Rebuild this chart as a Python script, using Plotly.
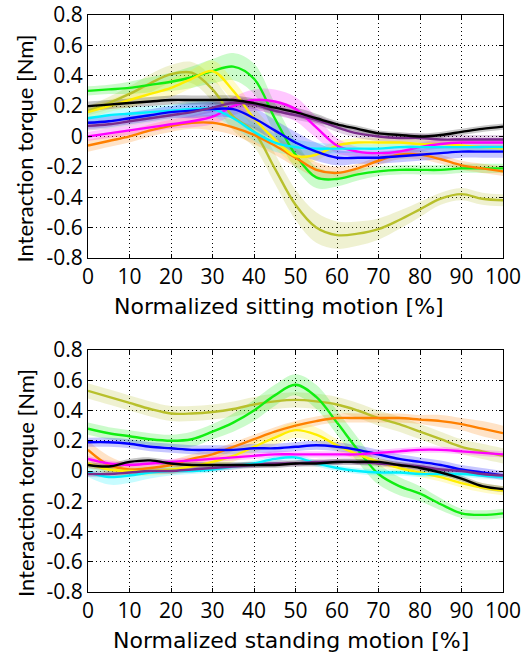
import plotly.graph_objects as go
from plotly.subplots import make_subplots

pct = list(range(0, 101, 5))

y_ticks = [-0.8, -0.6, -0.4, -0.2, 0, 0.2, 0.4, 0.6, 0.8]
y_ticklabels = ["-0.8", "-0.6", "-0.4", "-0.2", "0", "0.2", "0.4", "0.6", "0.8"]
x_ticks = list(range(0, 101, 10))

colors = {
    "olive": "#b8c02c",
    "green": "#11ee11",
    "orange": "#ff8000",
    "yellow": "#ffee00",
    "blue": "#0000ff",
    "magenta": "#ff00ff",
    "cyan": "#00f0ff",
    "purple": "#7a2c8c",
    "black": "#000000",
}

# sitting motion, mean torque [Nm]
sit_olive = [0.17, 0.22, 0.28, 0.35, 0.41, 0.42, 0.31, 0.13, 0.03, -0.21, -0.45, -0.6, -0.65, -0.64, -0.61, -0.55, -0.48, -0.41, -0.38, -0.41, -0.42]
sit_green = [0.30, 0.31, 0.32, 0.34, 0.36, 0.39, 0.43, 0.46, 0.38, 0.12, -0.12, -0.27, -0.28, -0.25, -0.23, -0.22, -0.22, -0.22, -0.21, -0.21, -0.21]
sit_yellow = [0.16, 0.2, 0.24, 0.28, 0.32, 0.38, 0.43, 0.3, 0.12, -0.02, -0.13, -0.12, -0.06, -0.04, -0.04, -0.04, -0.05, -0.05, -0.06, -0.07, -0.08]
sit_orange = [-0.06, -0.03, 0.0, 0.04, 0.07, 0.09, 0.09, 0.06, 0.01, -0.06, -0.14, -0.22, -0.24, -0.21, -0.16, -0.12, -0.12, -0.15, -0.19, -0.21, -0.23]
sit_magenta = [0.0, 0.02, 0.04, 0.06, 0.08, 0.1, 0.13, 0.2, 0.24, 0.23, 0.18, 0.06, -0.06, -0.1, -0.11, -0.1, -0.07, -0.05, -0.04, -0.04, -0.04]
sit_cyan = [0.12, 0.14, 0.15, 0.16, 0.17, 0.18, 0.18, 0.12, 0.03, -0.04, -0.07, -0.08, -0.08, -0.08, -0.08, -0.07, -0.07, -0.07, -0.07, -0.07, -0.07]
sit_blue = [0.09, 0.1, 0.12, 0.14, 0.16, 0.17, 0.18, 0.18, 0.12, 0.04, -0.04, -0.1, -0.14, -0.14, -0.14, -0.13, -0.12, -0.11, -0.1, -0.1, -0.1]
sit_purple = [0.07, 0.08, 0.1, 0.12, 0.14, 0.16, 0.19, 0.22, 0.21, 0.17, 0.14, 0.11, 0.06, 0.02, 0.0, -0.01, -0.01, -0.02, -0.02, -0.02, -0.02]
sit_black = [0.2, 0.21, 0.22, 0.23, 0.24, 0.24, 0.24, 0.24, 0.22, 0.19, 0.16, 0.12, 0.08, 0.05, 0.02, 0.01, 0.0, 0.01, 0.03, 0.05, 0.065]

# sitting motion, spread
sit_olive_sd = [0.03, 0.04, 0.05, 0.06, 0.06, 0.07, 0.08, 0.09, 0.1, 0.1, 0.1, 0.1, 0.09, 0.08, 0.07, 0.06, 0.05, 0.04, 0.04, 0.04, 0.04]
sit_green_sd = [0.03, 0.03, 0.04, 0.05, 0.06, 0.07, 0.08, 0.09, 0.1, 0.1, 0.09, 0.07, 0.05, 0.04, 0.03, 0.03, 0.03, 0.03, 0.03, 0.03, 0.03]
sit_yellow_sd = [0.04, 0.04, 0.05, 0.05, 0.06, 0.06, 0.07, 0.07, 0.07, 0.06, 0.05, 0.04, 0.03, 0.03, 0.03, 0.03, 0.03, 0.03, 0.03, 0.03, 0.03]
sit_orange_sd = [0.04, 0.04, 0.04, 0.04, 0.04, 0.04, 0.05, 0.05, 0.06, 0.06, 0.06, 0.05, 0.04, 0.03, 0.03, 0.03, 0.03, 0.03, 0.03, 0.03, 0.03]
sit_magenta_sd = [0.03, 0.03, 0.03, 0.03, 0.03, 0.04, 0.05, 0.06, 0.07, 0.08, 0.08, 0.07, 0.05, 0.03, 0.03, 0.03, 0.03, 0.03, 0.03, 0.03, 0.03]
sit_cyan_sd = [0.04, 0.04, 0.04, 0.04, 0.04, 0.05, 0.05, 0.06, 0.06, 0.06, 0.05, 0.04, 0.03, 0.03, 0.03, 0.03, 0.03, 0.03, 0.03, 0.03, 0.03]
sit_blue_sd = [0.04, 0.04, 0.04, 0.04, 0.04, 0.05, 0.05, 0.06, 0.07, 0.07, 0.07, 0.06, 0.05, 0.04, 0.04, 0.04, 0.04, 0.04, 0.04, 0.04, 0.04]
sit_purple_sd = [0.03] * 21
sit_black_sd = [0.03, 0.03, 0.03, 0.03, 0.03, 0.03, 0.03, 0.03, 0.03, 0.03, 0.03, 0.03, 0.02, 0.02, 0.02, 0.02, 0.02, 0.02, 0.02, 0.02, 0.02]

# standing motion, mean torque [Nm]
std_olive = [0.53, 0.49, 0.45, 0.41, 0.38, 0.38, 0.39, 0.41, 0.44, 0.46, 0.47, 0.46, 0.44, 0.4, 0.35, 0.31, 0.26, 0.21, 0.16, 0.13, 0.1]
std_green = [0.28, 0.25, 0.23, 0.21, 0.2, 0.21, 0.26, 0.32, 0.4, 0.5, 0.57, 0.49, 0.32, 0.14, -0.02, -0.1, -0.15, -0.22, -0.28, -0.29, -0.28]
std_orange = [0.14, 0.04, 0.01, 0.02, 0.04, 0.08, 0.11, 0.16, 0.21, 0.26, 0.3, 0.33, 0.35, 0.35, 0.35, 0.35, 0.34, 0.33, 0.31, 0.28, 0.25]
std_yellow = [0.05, 0.01, 0.0, 0.0, 0.01, 0.03, 0.06, 0.1, 0.16, 0.22, 0.27, 0.24, 0.17, 0.11, 0.06, 0.02, -0.01, -0.04, -0.08, -0.11, -0.13]
std_blue = [0.19, 0.19, 0.18, 0.16, 0.15, 0.14, 0.14, 0.14, 0.15, 0.15, 0.16, 0.17, 0.16, 0.14, 0.11, 0.08, 0.06, 0.04, 0.01, -0.01, -0.03]
std_magenta = [0.08, 0.05, 0.04, 0.05, 0.06, 0.07, 0.08, 0.09, 0.1, 0.11, 0.11, 0.11, 0.11, 0.11, 0.12, 0.13, 0.14, 0.14, 0.13, 0.12, 0.11]
std_black = [0.04, 0.03, 0.06, 0.07, 0.05, 0.04, 0.04, 0.04, 0.04, 0.04, 0.05, 0.05, 0.06, 0.06, 0.06, 0.04, 0.02, -0.01, -0.05, -0.1, -0.12]
std_purple = [-0.02, -0.02, -0.01, 0.0, 0.0, 0.01, 0.02, 0.03, 0.04, 0.05, 0.05, 0.06, 0.06, 0.06, 0.05, 0.04, 0.03, 0.01, 0.0, -0.02, -0.03]
std_cyan = [-0.01, -0.04, -0.03, -0.01, 0.0, 0.0, 0.01, 0.03, 0.05, 0.08, 0.09, 0.05, 0.02, 0.0, -0.01, -0.01, -0.02, -0.02, -0.02, -0.03, -0.04]

# standing motion, spread
std_olive_sd = [0.05] * 21
std_green_sd = [0.04, 0.04, 0.04, 0.04, 0.04, 0.05, 0.05, 0.06, 0.07, 0.07, 0.07, 0.08, 0.08, 0.08, 0.07, 0.06, 0.05, 0.04, 0.03, 0.03, 0.03]
std_orange_sd = [0.06, 0.06, 0.04, 0.03, 0.03, 0.03, 0.03, 0.03, 0.03, 0.03, 0.03, 0.03, 0.03, 0.03, 0.03, 0.03, 0.03, 0.04, 0.04, 0.05, 0.05]
std_yellow_sd = [0.03, 0.03, 0.03, 0.03, 0.03, 0.03, 0.04, 0.04, 0.04, 0.05, 0.05, 0.05, 0.04, 0.04, 0.03, 0.03, 0.03, 0.03, 0.03, 0.03, 0.03]
std_blue_sd = [0.03] * 21
std_magenta_sd = [0.02] * 21
std_black_sd = [0.02] * 21
std_purple_sd = [0.02] * 21
std_cyan_sd = [0.03, 0.05, 0.05, 0.04, 0.03, 0.02, 0.02, 0.02, 0.02, 0.02, 0.02, 0.02, 0.02, 0.02, 0.02, 0.02, 0.02, 0.02, 0.02, 0.02, 0.02]

sitting = [
    ("olive", sit_olive, sit_olive_sd), ("green", sit_green, sit_green_sd),
    ("orange", sit_orange, sit_orange_sd), ("yellow", sit_yellow, sit_yellow_sd),
    ("magenta", sit_magenta, sit_magenta_sd), ("cyan", sit_cyan, sit_cyan_sd),
    ("blue", sit_blue, sit_blue_sd), ("purple", sit_purple, sit_purple_sd),
    ("black", sit_black, sit_black_sd),
]
standing = [
    ("olive", std_olive, std_olive_sd), ("green", std_green, std_green_sd),
    ("orange", std_orange, std_orange_sd), ("yellow", std_yellow, std_yellow_sd),
    ("blue", std_blue, std_blue_sd), ("magenta", std_magenta, std_magenta_sd),
    ("cyan", std_cyan, std_cyan_sd), ("purple", std_purple, std_purple_sd),
    ("black", std_black, std_black_sd),
]


def rgba(hexcol, a):
    h = hexcol.lstrip("#")
    return "rgba(%d,%d,%d,%s)" % (int(h[0:2], 16), int(h[2:4], 16), int(h[4:6], 16), a)


fig = make_subplots(rows=2, cols=1, vertical_spacing=0.0)

for row, group in [(1, sitting), (2, standing)]:
    # shaded bands first
    for name, mean, sd in group:
        lo = [m - s for m, s in zip(mean, sd)]
        hi = [m + s for m, s in zip(mean, sd)]
        fig.add_trace(go.Scatter(x=pct, y=lo, mode="lines", line=dict(width=0, shape="spline"),
                                 hoverinfo="skip", showlegend=False), row=row, col=1)
        fig.add_trace(go.Scatter(x=pct, y=hi, mode="lines", line=dict(width=0, shape="spline"),
                                 fill="tonexty", fillcolor=rgba(colors[name], 0.22),
                                 hoverinfo="skip", showlegend=False), row=row, col=1)
    for name, mean, sd in group:
        fig.add_trace(go.Scatter(x=pct, y=mean, mode="lines",
                                 line=dict(color=colors[name], width=2.4, shape="spline"),
                                 showlegend=False), row=row, col=1)

axis_font = dict(family="Open Sans, Arial, sans-serif", size=21, color="black")

fig.update_xaxes(range=[0, 100], tickvals=x_ticks, showgrid=True, gridcolor="black", griddash="1px,3px",
                 gridwidth=1, showline=True, linecolor="black", linewidth=1, mirror="ticks",
                 ticks="inside", ticklen=4, tickcolor="black", tickfont=axis_font, zeroline=False,
                 automargin=False)
fig.update_yaxes(range=[-0.8, 0.8], tickvals=y_ticks, ticktext=y_ticklabels, showgrid=True,
                 gridcolor="black", griddash="1px,3px", gridwidth=1, showline=True, linecolor="black",
                 linewidth=1, mirror="ticks", ticks="inside", ticklen=4, tickcolor="black",
                 tickfont=axis_font, zeroline=False, automargin=False)

fig.update_layout(
    width=522, height=656,
    margin=dict(l=88, r=19, t=15, b=64),
    plot_bgcolor="white", paper_bgcolor="white",
    yaxis=dict(domain=[0.579, 1.0]),
    yaxis2=dict(domain=[0.0, 0.4194]),
    xaxis=dict(anchor="y"), xaxis2=dict(anchor="y2"),
)

xtitle_font = dict(family="DejaVu Sans, Open Sans, sans-serif", size=22, color="black")
ytitle_font = dict(family="Lato, Open Sans, sans-serif", size=22, color="black")
fig.add_annotation(text="Normalized sitting motion [%]", xref="x domain", yref="y domain",
                   x=0.46, y=-0.2, xanchor="center", yanchor="middle", showarrow=False, font=xtitle_font)
fig.add_annotation(text="Normalized standing motion [%]", xref="x2 domain", yref="y2 domain",
                   x=0.49, y=-0.2, xanchor="center", yanchor="middle", showarrow=False, font=xtitle_font)
fig.add_annotation(text="Interaction torque [Nm]", xref="x domain", yref="y domain",
                   x=-0.152, y=0.45, xanchor="center", yanchor="middle", textangle=-90,
                   showarrow=False, font=ytitle_font)
fig.add_annotation(text="Interaction torque [Nm]", xref="x2 domain", yref="y2 domain",
                   x=-0.152, y=0.45, xanchor="center", yanchor="middle", textangle=-90,
                   showarrow=False, font=ytitle_font)

fig.write_html("out.html", config={"displayModeBar": False},
               post_script="document.body.style.margin='0';")
